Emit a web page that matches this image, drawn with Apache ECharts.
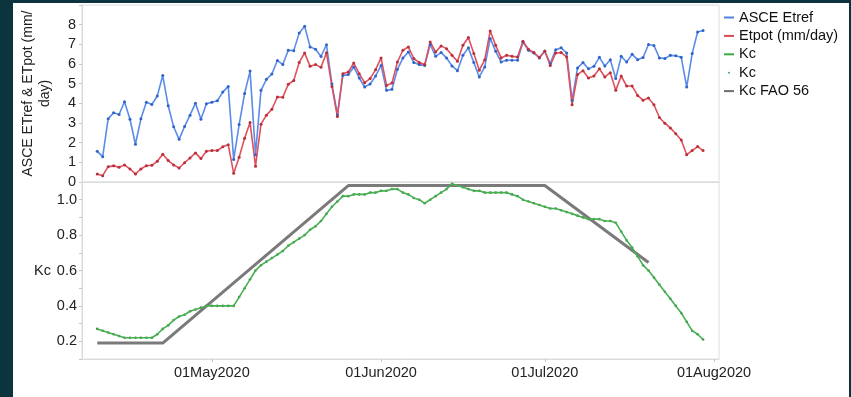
<!DOCTYPE html>
<html>
<head>
<meta charset="utf-8">
<script src="https://cdn.jsdelivr.net/npm/echarts@6/dist/echarts.min.js"></script>
<style>
  html, body { margin: 0; padding: 0; background: #0c343e; }
  #paper { position: absolute; left: 13px; top: 3px; width: 836px; height: 394px; background: #fff; }
  #chart { position: absolute; left: 0; top: 0; width: 851px; height: 397px; }
</style>
</head>
<body>
<div id="paper"></div>
<div id="chart"></div>
<script>
// daily readings, 10 Apr 2020 .. 30 Jul 2020
const startDay = '2020-04-10';

const asceEtref = [
  1.56, 1.29, 3.21, 3.52, 3.43, 4.08, 3.19, 1.92, 3.21, 4.05,
  3.94, 4.37, 5.41, 3.88, 2.81, 2.17, 2.82, 3.40, 4.01, 3.19,
  3.98, 4.06, 4.13, 4.57, 4.86, 1.14, 2.92, 4.50, 5.64, 1.39,
  4.66, 5.22, 5.49, 6.18, 5.97, 6.70, 6.68, 7.57, 7.92, 6.87,
  6.75, 6.38, 6.98, 4.98, 3.42, 5.42, 5.46, 5.85, 5.29, 4.83,
  4.98, 5.39, 5.93, 4.66, 4.71, 5.73, 6.30, 6.61, 6.07, 5.97,
  5.93, 6.99, 6.39, 6.58, 6.31, 5.90, 5.66, 6.44, 6.82, 6.07,
  5.34, 5.85, 7.30, 6.65, 6.10, 6.19, 6.19, 6.19, 7.12, 6.70,
  6.56, 6.31, 6.65, 6.02, 6.73, 6.82, 6.56, 4.15, 5.80, 6.07,
  5.76, 5.88, 6.34, 5.90, 6.22, 5.26, 6.39, 6.10, 6.49, 6.22,
  6.33, 6.99, 6.94, 6.31, 6.28, 6.44, 6.42, 6.34, 4.83, 6.53,
  7.63, 7.70
];

const etpot = [
  0.41, 0.32, 0.78, 0.82, 0.75, 0.87, 0.66, 0.41, 0.66, 0.83,
  0.85, 1.05, 1.41, 1.09, 0.87, 0.71, 0.98, 1.22, 1.48, 1.19,
  1.56, 1.60, 1.60, 1.79, 1.90, 0.44, 1.26, 2.22, 3.02, 0.80,
  2.94, 3.40, 3.70, 4.32, 4.31, 4.97, 5.16, 6.08, 6.56, 5.88,
  5.97, 5.83, 6.57, 4.86, 3.33, 5.51, 5.59, 6.05, 5.51, 5.05,
  5.26, 5.71, 6.31, 4.91, 5.03, 6.10, 6.70, 6.87, 6.28, 6.07,
  5.97, 7.12, 6.61, 6.92, 6.78, 6.44, 6.14, 6.95, 7.35, 6.53,
  5.68, 6.22, 7.68, 6.95, 6.31, 6.44, 6.39, 6.36, 7.16, 6.75,
  6.58, 6.33, 6.66, 5.93, 6.56, 6.58, 6.36, 3.93, 5.46, 5.66,
  5.29, 5.39, 5.76, 5.34, 5.56, 4.66, 5.39, 4.88, 4.88, 4.40,
  4.16, 4.27, 3.93, 3.28, 2.99, 2.75, 2.45, 2.14, 1.39, 1.60,
  1.80, 1.60
];

const kc = [
  0.27, 0.26, 0.25, 0.24, 0.23, 0.22, 0.22, 0.22, 0.22, 0.22,
  0.22, 0.24, 0.27, 0.29, 0.32, 0.34, 0.35, 0.37, 0.38, 0.39,
  0.40, 0.40, 0.40, 0.40, 0.40, 0.40, 0.45, 0.50, 0.55, 0.60,
  0.63, 0.65, 0.67, 0.69, 0.71, 0.74, 0.76, 0.78, 0.80, 0.83,
  0.85, 0.88, 0.92, 0.96, 0.99, 1.02, 1.02, 1.03, 1.03, 1.03,
  1.04, 1.04, 1.05, 1.05, 1.06, 1.06, 1.04, 1.03, 1.01, 1.00,
  0.98, 1.00, 1.02, 1.04, 1.06, 1.09, 1.08, 1.07, 1.06, 1.05,
  1.05, 1.04, 1.04, 1.04, 1.04, 1.04, 1.03, 1.02, 1.00, 0.99,
  0.98, 0.97, 0.96, 0.95, 0.95, 0.94, 0.93, 0.92, 0.91, 0.90,
  0.89, 0.89, 0.89, 0.88, 0.88, 0.87, 0.82, 0.77, 0.73, 0.68,
  0.63, 0.60, 0.56, 0.52, 0.48, 0.44, 0.40, 0.36, 0.31, 0.26,
  0.24, 0.21
];

const faoDates = ['2020-04-10', '2020-04-22', '2020-05-26', '2020-07-01', '2020-07-20'];
const faoKc = [0.19, 0.19, 1.08, 1.08, 0.645];

const tickDates = ['2020-05-01', '2020-06-01', '2020-07-01', '2020-08-01'];
const tickLabels = ['01May2020', '01Jun2020', '01Jul2020', '01Aug2020'];

const axisMin = '2020-04-07T05:00:00';
const axisMax = '2020-08-01T22:00:00';

const FONT = "'Liberation Sans', Arial, sans-serif";

function toTime(s) {
  return new Date(s.length > 10 ? s : s + 'T00:00:00').getTime();
}

// x positions of the daily readings
const start = new Date(startDay + 'T00:00:00');
const days = asceEtref.map((_, i) =>
  new Date(start.getFullYear(), start.getMonth(), start.getDate() + i).getTime());

const pair = vals => vals.map((v, i) => [days[i], v]);
const tickTimes = tickDates.map(toTime);

const chart = echarts.init(document.getElementById('chart'));

const gridBorder = '#dcdcdc';
const labelStyle = { color: '#222', fontSize: 14.5, fontFamily: FONT };

chart.setOption({
  animation: false,
  backgroundColor: 'transparent',
  textStyle: { fontFamily: FONT },
  grid: [
    { left: 82, top: 5, width: 637, height: 177, show: true, borderColor: gridBorder, borderWidth: 1 },
    { left: 82, top: 182, width: 637, height: 177, show: true, borderColor: gridBorder, borderWidth: 1 }
  ],
  legend: {
    orient: 'vertical',
    left: 719,
    top: 5,
    itemWidth: 10,
    itemHeight: 2,
    itemGap: 3.4,
    selectedMode: false,
    textStyle: { color: '#111', fontSize: 14.5, fontFamily: FONT },
    data: [
      { name: 'ASCE Etref', icon: 'rect', itemStyle: { color: '#4f82e3' } },
      { name: 'Etpot (mm/day)', icon: 'rect', itemStyle: { color: '#dd4652' } },
      { name: 'Kc', icon: 'rect', itemStyle: { color: '#3daa47' } },
      { name: 'Kc ', icon: 'circle', itemStyle: { color: '#2f8a3a' } },
      { name: 'Kc FAO 56', icon: 'rect', itemStyle: { color: '#6e6e6e' } }
    ]
  },
  xAxis: [
    {
      type: 'value', gridIndex: 0, min: toTime(axisMin), max: toTime(axisMax),
      axisLine: { lineStyle: { color: gridBorder } },
      axisTick: { show: false }, axisLabel: { show: false }, splitLine: { show: false }
    },
    {
      type: 'value', gridIndex: 1, min: toTime(axisMin), max: toTime(axisMax),
      axisLine: { lineStyle: { color: gridBorder } },
      axisTick: { show: true, length: 3, customValues: tickTimes, lineStyle: { color: '#c4c4c4' } },
      axisLabel: {
        ...labelStyle, margin: 6, customValues: tickTimes,
        formatter: v => tickLabels[tickTimes.indexOf(v)] || ''
      },
      splitLine: { show: false }
    }
  ],
  yAxis: [
    {
      type: 'value', gridIndex: 0, min: 0, max: 9, interval: 1,
      name: 'ASCE ETref & ETpot (mm/\nday)',
      nameLocation: 'middle', nameGap: 29,
      nameTextStyle: { color: '#222', fontSize: 14, lineHeight: 16.5, fontFamily: FONT },
      axisLine: { show: true, lineStyle: { color: gridBorder } },
      axisTick: { show: true, length: 3, lineStyle: { color: '#c8c8c8' } },
      axisLabel: { ...labelStyle, margin: 6, formatter: v => (v > 8 ? '' : String(v)) },
      splitLine: { show: false }
    },
    {
      type: 'value', gridIndex: 1, min: 0.1, max: 1.1, interval: 0.1,
      name: 'Kc', nameLocation: 'middle', nameRotate: 0, nameGap: 29,
      nameTextStyle: { color: '#222', fontSize: 14.5, fontFamily: FONT },
      axisLine: { show: true, lineStyle: { color: gridBorder } },
      axisTick: { show: true, length: 3, lineStyle: { color: '#c8c8c8' } },
      axisLabel: {
        ...labelStyle, margin: 5,
        formatter: v => (Math.round(v * 10) % 2 === 0 ? v.toFixed(1) : '')
      },
      splitLine: { show: false }
    }
  ],
  series: [
    {
      name: 'ASCE Etref', type: 'line', xAxisIndex: 0, yAxisIndex: 0,
      data: pair(asceEtref), symbol: 'circle', symbolSize: 3,
      lineStyle: { color: '#5a8ce8', width: 1.6 },
      itemStyle: { color: '#3264c8' }
    },
    {
      name: 'Etpot (mm/day)', type: 'line', xAxisIndex: 0, yAxisIndex: 0,
      data: pair(etpot), symbol: 'circle', symbolSize: 3,
      lineStyle: { color: '#e0505c', width: 1.6 },
      itemStyle: { color: '#b8303c' }
    },
    {
      name: 'Kc FAO 56', type: 'line', xAxisIndex: 1, yAxisIndex: 1,
      data: faoDates.map((d, i) => [toTime(d), faoKc[i]]),
      showSymbol: false, symbol: 'none',
      lineStyle: { color: '#7a7a7a', width: 3 }
    },
    {
      name: 'Kc', type: 'line', xAxisIndex: 1, yAxisIndex: 1,
      data: pair(kc), showSymbol: false, symbol: 'none',
      lineStyle: { color: '#45b04f', width: 1.6 }
    },
    {
      name: 'Kc ', type: 'scatter', xAxisIndex: 1, yAxisIndex: 1,
      data: pair(kc), symbolSize: 2.6,
      itemStyle: { color: '#1f6a2b' }
    }
  ]
});
</script>
</body>
</html>
